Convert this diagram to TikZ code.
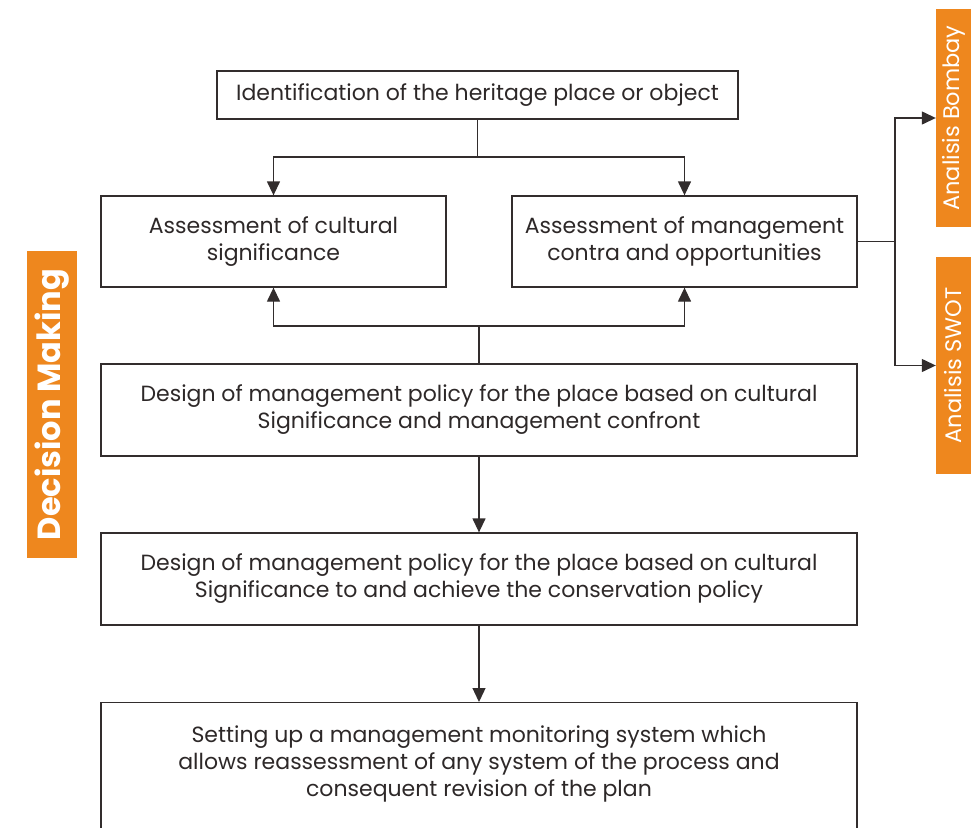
\documentclass[tikz,border=0pt]{standalone}
\usepackage{fontspec}
\setmainfont{Poppins}
\usetikzlibrary{arrows.meta}
\definecolor{linec}{RGB}{50,45,45}
\definecolor{textc}{RGB}{45,40,40}
\definecolor{accent}{RGB}{238,135,30}
\begin{document}
\begin{tikzpicture}[x=1pt,y=-1pt,
  box/.style={draw=linec, line width=1.3pt, inner sep=0pt, align=center,
    text=textc, font=\fontsize{22}{27}\selectfont},
  tag/.style={fill=accent, inner sep=0pt, text=white},
  link/.style={draw=linec, line width=1.3pt},
  arr/.style={link, -{Triangle[length=14pt,width=13pt]}}]
\useasboundingbox (0,0) rectangle (976,827);
\clip (0,0) rectangle (976,827);

% process boxes
\node[box, minimum width=521pt, minimum height=48pt] (ident) at (477.5,95)
  {Identification of the heritage place or object};
\node[box, minimum width=345pt, minimum height=91pt] (cult) at (273.5,241.5)
  {Assessment of cultural\\significance};
\node[box, minimum width=345pt, minimum height=91pt] (mgmt) at (684.5,241.5)
  {Assessment of management\\contra and opportunities};
\node[box, minimum width=756pt, minimum height=92pt] (polA) at (479,410)
  {Design of management policy for the place based on cultural\\Significance and management confront};
\node[box, minimum width=756pt, minimum height=92pt] (polB) at (479,579)
  {Design of management policy for the place based on cultural\\Significance to and achieve the conservation policy};
\node[box, minimum width=756pt, minimum height=160pt, anchor=north] (monitor) at (479,702) {};
\node[align=center, text=textc, font=\fontsize{22}{27}\selectfont, inner sep=0pt] (monitortext)
  at (479,764)
  {Setting up a management monitoring system which\\allows reassessment of any system of the process and\\consequent revision of the plan};

% side tags
\node[tag, minimum width=50pt, minimum height=307pt] (decision) at (52,404.5)
  {\rotatebox{90}{\fontsize{32}{33}\selectfont\bfseries Decision Making}};
\node[tag, minimum width=35pt, minimum height=218pt] (bombay) at (953.5,118)
  {\rotatebox{90}{\fontsize{22.5}{23}\selectfont Analisis Bombay}};
\node[tag, minimum width=35pt, minimum height=217pt] (swot) at (953.5,365.5)
  {\rotatebox{90}{\fontsize{22.5}{23}\selectfont Analisis SWOT}};

% connectors
\draw[link] (ident.south) -- (ident.south |- 0,157) coordinate (splitA);
\draw[arr] (splitA) -| (cult.north);
\draw[arr] (splitA) -| (mgmt.north);

\draw[link] (polA.north) -- (polA.north |- 0,326) coordinate (splitB);
\draw[arr] (splitB) -| (cult.south);
\draw[arr] (splitB) -| (mgmt.south);

\draw[link] (mgmt.east) -- (895,241.5) coordinate (splitC);
\draw[arr] (splitC) |- (bombay.west);
\draw[arr] (splitC) |- (swot.west);

\draw[arr] (polA.south) -- (polB.north);
\draw[arr] (polB.south) -- (monitor.north);
\end{tikzpicture}
\end{document}
